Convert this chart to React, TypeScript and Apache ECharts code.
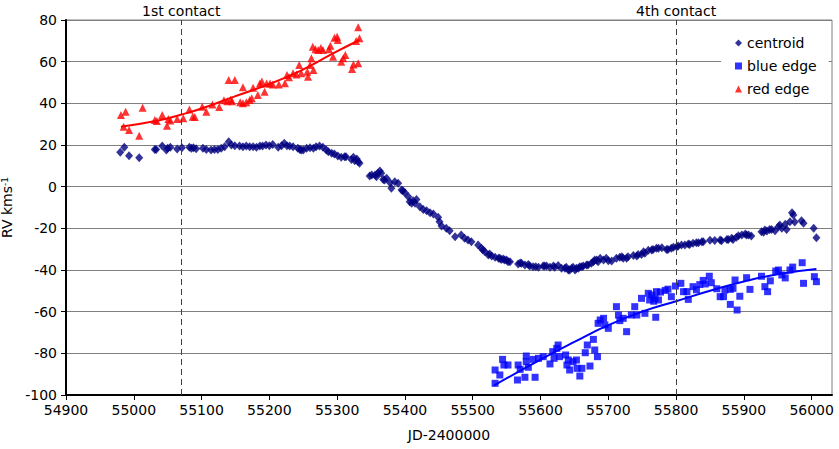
import React, { useEffect, useRef } from "react";
import * as echarts from "echarts";

const centroid: number[][] = [
  [54980, 16.5], [54986, 18.9], [54993, 14.9], [55008, 13.9], [55031, 17.9], [55033, 17.8], [55042, 19.5],
  [55048, 17.6], [55050, 18.4], [55054, 18.9], [55064, 18.1], [55071, 18.7], [55082, 18.9], [55085, 18.4],
  [55088, 18.7], [55092, 18.2], [55102, 18.4], [55107, 17.9], [55114, 17.6], [55119, 17.9], [55124, 17.9],
  [55129, 18.4], [55134, 19.2], [55140, 21.6], [55144, 20], [55149, 19.7], [55156, 19.5], [55161, 19.2],
  [55166, 19.5], [55171, 19.2], [55176, 19.2], [55181, 18.9], [55186, 19.5], [55190, 19.5], [55195, 20],
  [55200, 19.7], [55205, 20.3], [55213, 18.9], [55218, 19.7], [55222, 20.8], [55226, 19.7], [55230, 19.5],
  [55235, 19.2], [55242, 18.4], [55245, 17.9], [55247, 17.6], [55250, 17.6], [55255, 18.4], [55260, 18.7],
  [55265, 18.4], [55269, 19.2], [55274, 19.5], [55279, 18.9], [55284, 17.6], [55287, 16.8], [55292, 16],
  [55296, 15.7], [55301, 14.7], [55306, 14.1], [55311, 14.4], [55313, 14.4], [55321, 13.1], [55324, 14.1],
  [55326, 12.5], [55329, 13.3], [55331, 12], [55333, 11.2],
  [55348, 5.1], [55351, 5.6], [55356, 5.6], [55358, 4.8], [55360, 6.4], [55363, 7.5], [55365, 6.4],
  [55368, 3.5], [55370, 3.2], [55373, 4], [55378, 1.9], [55380, -0.8], [55385, 2.4], [55390, 1.6],
  [55395, -1.6], [55397, -1.9], [55400, -2.9], [55405, -4.8], [55407, -7.2], [55410, -8], [55412, -6.7],
  [55415, -8], [55417, -6.1], [55422, -9.6], [55427, -10.9], [55432, -11.5], [55437, -12.5], [55442, -13.1],
  [55449, -14.7], [55451, -16.8], [55454, -18.9], [55461, -20], [55466, -21.1], [55474, -24], [55483, -23.2],
  [55488, -24.8], [55493, -25.6], [55498, -26.4], [55508, -28], [55513, -29.6], [55515, -30.4], [55518, -31.2],
  [55523, -32.8], [55525, -32.3], [55528, -33.3], [55533, -33.9], [55538, -34.4], [55540, -34.4], [55542, -34.9],
  [55545, -34.7], [55547, -35.2], [55550, -35.2], [55552, -36], [55555, -36], [55567, -37.1], [55570, -36.6],
  [55572, -36.8], [55577, -37.6], [55582, -37.3], [55584, -38.1], [55589, -38.4], [55593, -38.4], [55597, -38.7],
  [55604, -38.1], [55606, -38.1], [55609, -38.1], [55614, -38.7], [55619, -38.1], [55621, -38.7], [55626, -37.8],
  [55631, -39.2], [55636, -39.2], [55638, -38.7], [55641, -40], [55643, -40], [55646, -39.2], [55648, -38.7],
  [55651, -40], [55653, -39.2], [55656, -39.2], [55658, -38.4], [55661, -38.4], [55663, -38.1], [55668, -37.6],
  [55670, -37.6], [55675, -36.8], [55678, -36], [55680, -35.2], [55683, -35.2], [55685, -36],
  [55688, -34.4], [55693, -35.2], [55697, -34.4], [55700, -35.5], [55705, -35.7], [55712, -34.4], [55717, -33.9],
  [55720, -33.6], [55722, -34.4], [55727, -34.4], [55729, -33.6], [55737, -33], [55742, -33.3], [55744, -32.5],
  [55749, -32.5], [55752, -31.2], [55754, -32], [55759, -30.5], [55764, -30.4], [55766, -30.1], [55771, -29.6],
  [55774, -29.6], [55779, -29.3], [55786, -30.1], [55788, -30.1], [55793, -29.6], [55796, -29.1], [55801, -28.8],
  [55803, -28.5], [55808, -28], [55813, -28], [55818, -27.5], [55820, -27.7], [55825, -27.2], [55830, -26.9],
  [55833, -26.9], [55838, -26.4], [55840, -26.4], [55850, -25.7], [55857, -25.8], [55865, -25.6], [55867, -25.9],
  [55875, -25.3], [55877, -25.3], [55882, -24.8], [55884, -25.3], [55889, -24.3], [55892, -23.6], [55897, -23.2],
  [55902, -22.7], [55904, -23.2], [55907, -23.2], [55911, -23.7], [55926, -21.6], [55929, -21.9], [55931, -20.8],
  [55934, -21.3], [55938, -20.5], [55941, -20.5], [55946, -21.1], [55951, -19.2], [55953, -18.4], [55956, -20],
  [55961, -18], [55963, -20.6], [55968, -16.8], [55971, -12.5], [55973, -13.6], [55975, -17], [55985, -16.3],
  [55988, -17.6], [56003, -20], [56007, -24.5],
];

const blueEdge: number[][] = [
  [55533, -94.4], [55533, -88], [55540, -90.4], [55544, -82.9], [55546, -85.6], [55552, -85.6], [55566, -92.8],
  [55567, -85.6], [55570, -87.7], [55577, -91.5], [55579, -81.3], [55579, -84], [55582, -86.7], [55589, -82.9],
  [55592, -91.5], [55597, -82.4], [55604, -81.6], [55614, -85.1], [55618, -79.2], [55620, -82.4], [55624, -77.6],
  [55626, -76], [55628, -81.6], [55637, -80.8], [55639, -85.6], [55641, -83.2], [55643, -88], [55648, -84],
  [55653, -83.2], [55654, -87.2], [55658, -90.9], [55661, -87.2], [55666, -79.7], [55669, -76], [55673, -86.1],
  [55678, -73.3], [55680, -78.4], [55684, -81.6], [55685, -65.6], [55688, -64], [55693, -63.2], [55695, -66.4],
  [55700, -68], [55712, -57.6], [55715, -61.6], [55717, -64.3], [55722, -63.2], [55727, -69.6], [55734, -61.6],
  [55739, -57.6], [55742, -61.6], [55749, -53.6], [55754, -60.8], [55759, -51.2], [55761, -54.4], [55764, -52],
  [55767, -55], [55769, -53.6], [55770, -62.7], [55771, -50.4], [55774, -54.4], [55777, -50.6], [55784, -49.8],
  [55788, -49.2], [55793, -52.8], [55799, -47.7], [55807, -46.4], [55811, -50.4], [55816, -50.4], [55818, -54.1],
  [55825, -48], [55830, -49.5], [55835, -47], [55840, -45], [55843, -46.7], [55849, -43], [55852, -46.1],
  [55860, -49], [55865, -52.8], [55870, -52.8], [55872, -49.6], [55880, -49.3], [55880, -56.5], [55884, -48.8],
  [55887, -44.8], [55890, -59.2], [55894, -52.6], [55904, -43.7], [55909, -49.3], [55926, -43], [55931, -48],
  [55935, -50.4], [55939, -45.2], [55947, -40.5], [55951, -40], [55956, -42.4], [55961, -43.8], [55968, -40],
  [55972, -38.6], [55986, -36.5], [55988, -46.4], [56004, -43.2], [56007, -45.6],
];

const redEdge: number[][] = [
  [54981, 34.4], [54985, 28.8], [54988, 36], [54993, 27.2], [55008, 24.5], [55013, 37.9], [55031, 32],
  [55034, 31.5], [55042, 34.4], [55049, 29.3], [55051, 32.5], [55054, 31.8], [55064, 32.5], [55073, 32.8],
  [55082, 37], [55087, 33.6], [55090, 33.4], [55101, 38.4], [55107, 36], [55116, 39.5], [55126, 38.2],
  [55133, 41.5], [55138, 41], [55140, 51.2], [55143, 41.8], [55145, 41], [55149, 51.2], [55157, 40.5],
  [55161, 40], [55161, 47.7], [55166, 40.5], [55171, 41.6], [55174, 42.4], [55176, 47.5], [55183, 44],
  [55186, 49.5], [55189, 50.5], [55193, 45.6], [55196, 49.5], [55201, 49.5], [55205, 49], [55214, 49.1],
  [55223, 49.6], [55226, 53.6], [55229, 52.5], [55235, 54.4], [55240, 53.9], [55244, 58.4], [55247, 54.4],
  [55256, 55.2], [55257, 52.8], [55260, 58.4], [55262, 61.6], [55264, 67.2], [55265, 56], [55268, 66],
  [55272, 65.6], [55276, 66.6], [55279, 65.6], [55288, 66], [55290, 67.7], [55294, 62.4], [55296, 71.5],
  [55300, 72], [55301, 70.4], [55306, 60], [55309, 61.6], [55312, 63.2], [55322, 56.5], [55324, 58.7],
  [55328, 69.9], [55331, 59.2], [55331, 76.5], [55333, 71.2],
];

const redTrend: number[][] = [
  [54981, 28.8], [55036, 31.8], [55069, 34.5], [55100, 37.5], [55146, 43], [55196, 48.8],
  [55245, 55.5], [55294, 64], [55333, 70.4],
];

const blueTrend: number[][] = [
  [55531, -95.5], [55600, -83], [55650, -74.5], [55700, -66.5], [55750, -60], [55800, -55],
  [55850, -50], [55900, -45.5], [55950, -42], [56007, -39.5],
];

const contacts = [
  { name: "1st contact", jd: 55070 },
  { name: "4th contact", jd: 55800 },
];

const xTickLabels = [54900, 55000, 55100, 55200, 55300, 55400, 55500, 55600, 55700, 55800, 55900, 56000];
const xMin = 54900;
const xMax = 56030;
const yMin = -100;
const yMax = 80;
const yStep = 20;

const FONT = "DejaVu Sans";

export default function App() {
  const ref = useRef<HTMLDivElement>(null);
  useEffect(() => {
    const chart = echarts.init(ref.current!, null, { renderer: "svg" });
    chart.setOption({
      animation: false,
      backgroundColor: "#ffffff",
      textStyle: { fontFamily: FONT },
      grid: {
        left: 66,
        right: 7,
        top: 20,
        bottom: 54,
        outerBoundsMode: "none",
        containLabel: false,
        show: true,
        borderColor: "#808080",
        borderWidth: 1,
      },
      legend: {
        data: ["centroid", "blue edge", "red edge"],
        orient: "vertical",
        left: 721,
        top: 24,
        backgroundColor: "#ffffff",
        padding: [11, 12, 3, 14],
        itemWidth: 7,
        itemHeight: 7,
        itemGap: 7,
        textStyle: { fontFamily: FONT, fontSize: 14, color: "#000", lineHeight: 16 },
      },
      xAxis: {
        type: "value",
        min: xMin,
        max: xMax,
        interval: 100,
        name: "JD-2400000",
        nameLocation: "middle",
        nameGap: 33,
        nameTextStyle: { fontFamily: FONT, fontSize: 14, color: "#000" },
        axisLine: { show: true, onZero: false, lineStyle: { color: "#000", width: 2 } },
        axisTick: { show: true, length: 5, customValues: xTickLabels, lineStyle: { color: "#000", width: 1 } },
        axisLabel: {
          customValues: xTickLabels,
          formatter: (v: number) => String(v),
          color: "#000",
          fontSize: 14,
          fontFamily: FONT,
          margin: 8,
        },
        splitLine: { show: false },
      },
      yAxis: {
        type: "value",
        min: yMin,
        max: yMax,
        interval: yStep,
        name: "RV kms{sup|-1}",
        nameLocation: "middle",
        nameGap: 41,
        nameRotate: 90,
        nameTextStyle: {
          fontFamily: FONT,
          fontSize: 14,
          color: "#000",
          rich: { sup: { fontFamily: FONT, fontSize: 9, color: "#000", verticalAlign: "top" } },
        },
        axisLine: { show: true, onZero: false, lineStyle: { color: "#000", width: 2 } },
        axisTick: { show: true, length: 5, lineStyle: { color: "#000", width: 1 } },
        axisLabel: { color: "#000", fontSize: 14, fontFamily: FONT, margin: 9 },
        splitLine: { show: true, lineStyle: { color: "#808080", width: 1 } },
      },
      series: [
        {
          name: "centroid",
          type: "scatter",
          symbol: "diamond",
          symbolSize: [8, 9],
          itemStyle: { color: "#000080" },
          data: centroid,
          markLine: {
            silent: true,
            symbol: ["none", "none"],
            lineStyle: { color: "#404040", type: [6, 4], width: 1 },
            label: {
              show: true,
              position: "end",
              formatter: "{b}",
              color: "#000",
              fontSize: 14,
              fontFamily: FONT,
              distance: 2,
            },
            data: contacts.map((c) => ({ name: c.name, xAxis: c.jd })),
          },
        },
        {
          name: "blue edge",
          type: "scatter",
          symbol: "rect",
          symbolSize: 7,
          itemStyle: { color: "#0000ff" },
          data: blueEdge,
        },
        {
          name: "red edge",
          type: "scatter",
          symbol: "triangle",
          symbolSize: 8,
          itemStyle: { color: "#ff0000" },
          data: redEdge,
        },
        {
          name: "red trend",
          type: "line",
          smooth: true,
          showSymbol: false,
          lineStyle: { color: "#ff0000", width: 2 },
          data: redTrend,
        },
        {
          name: "blue trend",
          type: "line",
          smooth: true,
          showSymbol: false,
          lineStyle: { color: "#0000ff", width: 2 },
          data: blueTrend,
        },
      ],
    });
    return () => chart.dispose();
  }, []);
  return (
    <div
      ref={ref}
      style={{ position: "fixed", left: 0, top: 0, width: 839, height: 449, background: "#fff" }}
    />
  );
}
